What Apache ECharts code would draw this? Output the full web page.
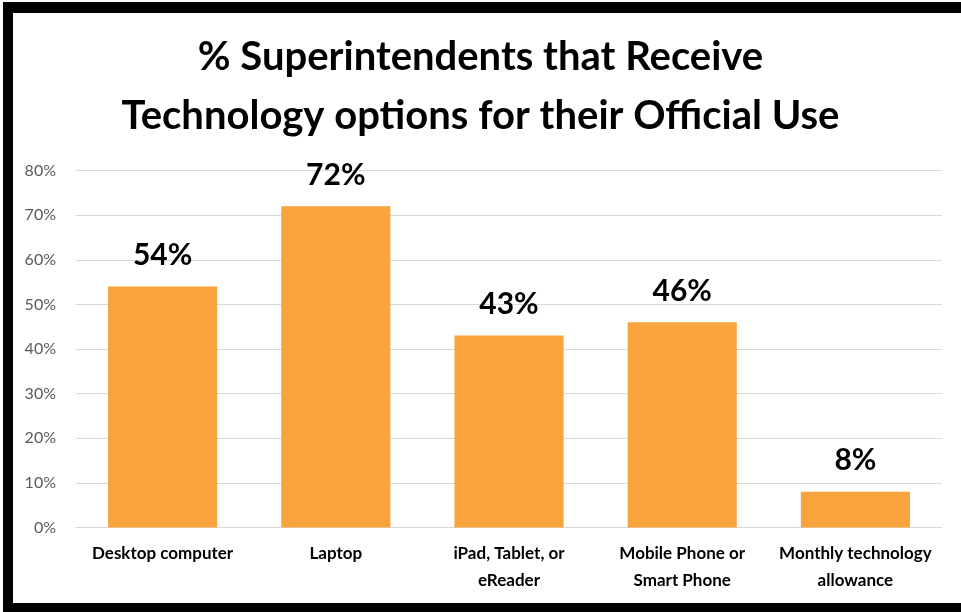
<!DOCTYPE html>
<html>
<head>
<meta charset="utf-8">
<script src="https://cdn.jsdelivr.net/npm/echarts@6/dist/echarts.min.js"></script>
<style>
  html, body { margin: 0; padding: 0; background: #ffffff; }
  #chart { width: 961px; height: 612px; }
</style>
</head>
<body>
<div id="chart"></div>
<script>
// Device options received by superintendents, in percent
const categories = [
  'Desktop computer',
  'Laptop',
  'iPad, Tablet, or\neReader',
  'Mobile Phone or\nSmart Phone',
  'Monthly technology\nallowance'
];
const shares = [54, 72, 43, 46, 8];
const yTicks = [0, 10, 20, 30, 40, 50, 60, 70, 80];

const chart = echarts.init(document.getElementById('chart'), null, { renderer: 'canvas' });

const textFont = 'Lato, "Open Sans", sans-serif';

chart.setOption({
  animation: false,
  backgroundColor: '#ffffff',
  title: {
    text: '% Superintendents that Receive\nTechnology options for their Official Use',
    left: 'center',
    top: 23,
    textStyle: {
      fontFamily: textFont,
      fontWeight: 'bold',
      fontSize: 40,
      lineHeight: 59,
      color: '#000000'
    }
  },
  graphic: [
    { type: 'rect', shape: { x: 3, y: 2, width: 958, height: 11 }, style: { fill: '#000000' }, silent: true },
    { type: 'rect', shape: { x: 3, y: 2, width: 10, height: 610 }, style: { fill: '#000000' }, silent: true },
    { type: 'rect', shape: { x: 3, y: 603, width: 958, height: 9 }, style: { fill: '#000000' }, silent: true }
  ],
  grid: {
    left: 76,
    right: 19,
    top: 170.5,
    bottom: 84.5,
    containLabel: false
  },
  xAxis: {
    type: 'category',
    data: categories,
    axisLine: { show: true, lineStyle: { color: '#d9d9d9', width: 1 } },
    axisTick: { show: false },
    axisLabel: {
      interval: 0,
      margin: 13,
      fontFamily: textFont,
      fontWeight: 'bold',
      fontSize: 17,
      lineHeight: 27,
      color: '#000000'
    }
  },
  yAxis: {
    type: 'value',
    min: yTicks[0],
    max: yTicks[yTicks.length - 1],
    interval: 10,
    axisLine: { show: false },
    axisTick: { show: false },
    splitLine: { show: true, lineStyle: { color: '#d9d9d9', width: 1 } },
    axisLabel: {
      formatter: '{value}%',
      margin: 20,
      fontFamily: textFont,
      fontSize: 16,
      color: '#595959'
    }
  },
  series: [{
    type: 'bar',
    data: shares,
    barWidth: '63%',
    itemStyle: { color: '#F9A33D' },
    label: {
      show: true,
      position: 'top',
      distance: 16,
      formatter: '{c}%',
      fontFamily: textFont,
      fontWeight: 'bold',
      fontSize: 30,
      color: '#000000'
    }
  }]
});
</script>
</body>
</html>
